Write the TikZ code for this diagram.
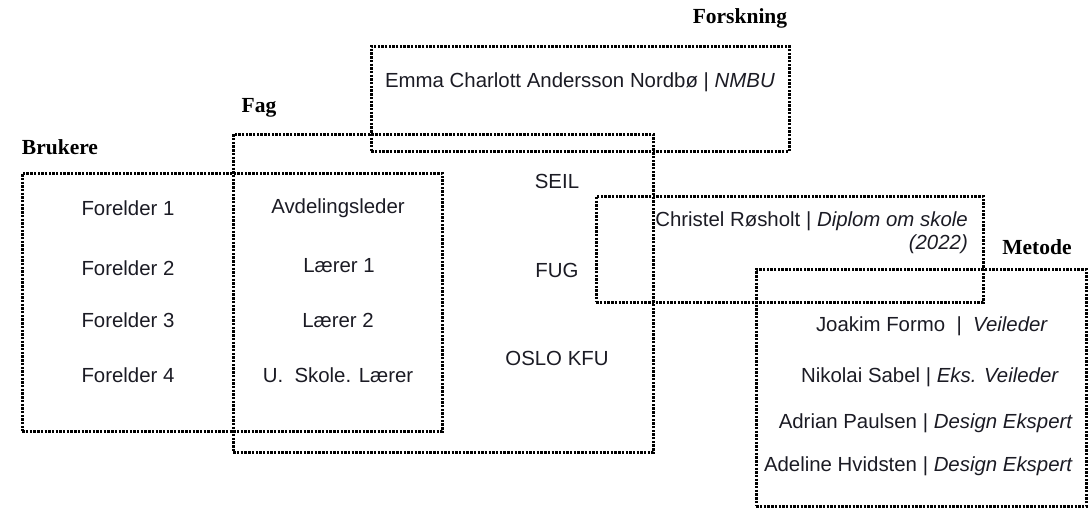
\documentclass[tikz,border=0pt]{standalone}
\usepackage{fontspec}
\setmainfont{Liberation Sans}
\newfontfamily\headfont{Liberation Serif}
\usetikzlibrary{positioning}
\definecolor{ink}{HTML}{1B1B24}

\begin{document}
\begin{tikzpicture}[
  x=1pt, y=-1pt,
  every node/.style={font=\fontsize{20.4}{24}\selectfont, text=ink},
  zone/.style={draw=black, line width=2.6pt, dash pattern=on 2.4pt off 1.3pt,
               inner sep=0pt, anchor=north west},
  head/.style={font=\headfont\bfseries\fontsize{21.5}{24}\selectfont, text=black},
  item/.style={inner sep=1pt}
]
\useasboundingbox (0,0) rectangle (1088,507);

% zones
\node[zone, minimum width=418pt, minimum height=105pt]  (forskning) at (370,45)  {};
\node[zone, minimum width=420pt, minimum height=318pt]  (fag)       at (232,133) {};
\node[zone, minimum width=420pt, minimum height=258pt]  (brukere)   at (21,172)  {};
\node[zone, minimum width=387pt, minimum height=106pt]  (diplom)    at (595,195) {};
\node[zone, minimum width=330pt, minimum height=237pt]  (metode)    at (755,268) {};

% headings
\node[head] (hForskning) at (740,18)  {Forskning};
\node[head] (hFag)       at (259,108) {Fag};
\node[head] (hBrukere)   at (60,147)  {Brukere};
\node[head] (hMetode)    at (1037,247) {Metode};

% brukere
\node[item] (f1) at (128,208) {Forelder 1};
\node[item] (f2) at (128,268) {Forelder 2};
\node[item] (f3) at (128,320) {Forelder 3};
\node[item] (f4) at (128,375) {Forelder 4};

% fag
\node[item] (leder)  at (338,208) {Avdelingsleder};
\node[item] (laerA)  at (339,266) {Lærer 1};
\node[item] (laerB)  at (338,320) {Lærer 2};
\node[item] (uskole) at (338,375) {U.\ \ Skole. Lærer};
\node[item] (seil)   at (557,181) {SEIL};
\node[item] (fug)    at (557,270) {FUG};
\node[item] (kfu)    at (557,358) {OSLO KFU};

% forskning
\node[item] (emma) at (580,82) {Emma Charlott Andersson Nordbø | \textit{NMBU}};

% diplom
\node[item, anchor=east] (christel) at (969,221) {Christel Røsholt | \textit{Diplom om skole}};
\node[item, anchor=east] (aar)      at (969,244) {\textit{(2022)}};

% metode
\node[item] (joakim)  at (932,326) {Joakim Formo \ | \ \textit{Veileder}};
\node[item] (nikolai) at (930,377) {Nikolai Sabel | \textit{Eks. Veileder}};
\node[item, anchor=east] (adrian)  at (1074,423) {Adrian Paulsen | \textit{Design Ekspert}};
\node[item, anchor=east] (adeline) at (1074,466) {Adeline Hvidsten | \textit{Design Ekspert}};
\end{tikzpicture}
\end{document}
